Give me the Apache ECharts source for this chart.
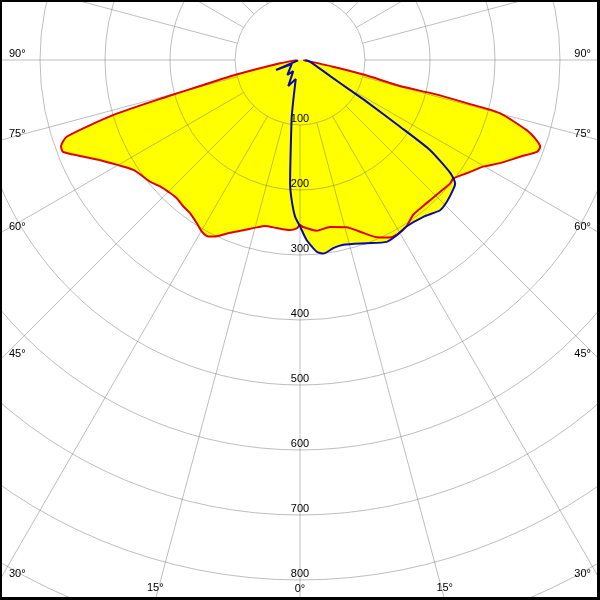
<!DOCTYPE html>
<html><head><meta charset="utf-8">
<script src="https://cdn.jsdelivr.net/npm/echarts@6/dist/echarts.min.js"></script>
<style>html,body{margin:0;padding:0;background:#fff}#c{width:600px;height:600px}</style>
</head><body><div id="c"></div>
<script>
// Red curve: angle in degrees (negative = left of nadir), intensity value
const redAngles = [-88, -80.6, -77, -75.4, -74.6, -73.6, -71.8, -70.1, -68.8, -66.4,
  -63.4, -56.6, -50.9, -47.9, -44.3, -41.7, -38.5, -35.7, -32.3, -29.8,
  -27.4, -25.3, -22.1, -18.4, -14.5, -11.9, -7.9, -3.4, -1.1, 0,
  1.1, 5.6, 10.2, 15.6, 19.3, 23.4, 26.9, 29.6, 32.6, 36.2,
  41.5, 46.8, 50.6, 52.3, 55.8, 59.8, 62.7, 66.3, 68.8, 70.1,
  71.3, 72.8, 75.1, 75.5, 75.8, 75.4, 77, 78.6, 88];
const redValues = [5, 31, 103, 159, 213, 299, 378, 391, 391, 369,
  344, 307, 297, 290, 286, 285, 288, 290, 297, 304,
  306, 300, 287, 276, 266, 261, 261, 262, 259, 254,
  257, 264, 261, 267, 280, 297, 306, 307, 304, 295,
  294, 296, 299, 298, 310, 326, 346, 370, 391, 393,
  384, 365, 318, 265, 211, 159, 103, 52, 5];
// Blue curve
const blueAngles = [-80, -67.4, -64.3, -40.3, -31.3, -24.2, -12.6, -9.5, -8.3, -5.9,
  -4.6, -3.4, -1.8, 0, 2.1, 5.0, 6.9, 10.0, 13.2, 20.0,
  25.5, 28.9, 32.6, 38.2, 43.0, 46.0, 50.2, 51.5, 53.1, 55.3,
  56.3, 58, 59, 62, 80, 90];
const blueValues = [3, 40, 14, 30, 20, 44, 30, 62, 88, 139,
  190, 216, 241, 256, 277, 296, 300, 294, 292, 300,
  310, 308, 304, 307, 316, 314, 308, 305, 289, 243,
  185, 120, 90, 52, 16, 8];
// Tick labels
const ringTicks = [100, 200, 300, 400, 500, 600, 700, 800];
const angleTicks = [90, 75, 60, 45, 30, 15, 0];
const angleTickLabels = ['90°', '75°', '60°', '45°', '30°', '15°', '0°'];

const W = 600, H = 600, CX = 300, CY = 60, R = 650, RMAX = 1000;
const gridColor = 'rgba(110,110,110,0.45)';
const FONT = '11px "Liberation Sans", Arial, sans-serif';

function pairs(a, v) { return a.map((t, i) => [v[i], t]); }
const redData = pairs(redAngles, redValues);
const blueData = pairs(blueAngles, blueValues);

const graphics = [];
angleTicks.forEach((a, i) => {
  const txt = angleTickLabels[i];
  const rad = a * Math.PI / 180;
  if (a >= 30) {
    const y = CY + CX / Math.tan(rad) - 6;
    graphics.push({type: 'text', x: 9, y: y, z: 10, style: {text: txt, font: FONT, fill: '#000', align: 'left', verticalAlign: 'middle'}});
    graphics.push({type: 'text', x: W - 9, y: y, z: 10, style: {text: txt, font: FONT, fill: '#000', align: 'right', verticalAlign: 'middle'}});
  } else if (a > 0) {
    const dx = (H - CY) * Math.tan(rad);
    graphics.push({type: 'text', x: CX - dx, y: 588, z: 10, style: {text: txt, font: FONT, fill: '#000', align: 'center', verticalAlign: 'middle'}});
    graphics.push({type: 'text', x: CX + dx, y: 588, z: 10, style: {text: txt, font: FONT, fill: '#000', align: 'center', verticalAlign: 'middle'}});
  } else {
    graphics.push({type: 'text', x: CX, y: 589, z: 10, style: {text: txt, font: FONT, fill: '#000', align: 'center', verticalAlign: 'middle'}});
  }
});
// frame
[[0, 0, W, 2], [0, 0, 2, H], [W - 3, 0, 3, H], [0, H - 3, W, 3]].forEach(s => {
  graphics.push({type: 'rect', z: 20, shape: {x: s[0], y: s[1], width: s[2], height: s[3]}, style: {fill: '#000'}});
});

const chart = echarts.init(document.getElementById('c'), null, {renderer: 'canvas', width: W, height: H});
chart.setOption({
  animation: false,
  backgroundColor: '#fff',
  polar: [
    {center: [CX, CY], radius: R},
    {center: [CX, CY], radius: [R * 100 / RMAX, R]}
  ],
  angleAxis: [
    {polarIndex: 0, type: 'value', min: -180, max: 180, startAngle: 90, clockwise: false, show: false},
    {polarIndex: 1, type: 'value', min: 0, max: 360, interval: 15, startAngle: 270, z: 3,
      axisLine: {show: false}, axisTick: {show: false}, axisLabel: {show: false},
      splitLine: {show: true, lineStyle: {color: gridColor, width: 1}}}
  ],
  radiusAxis: [
    {polarIndex: 0, type: 'value', min: 0, max: RMAX, show: false},
    {polarIndex: 1, type: 'value', min: 100, max: RMAX, interval: 100, z: 3,
      axisLine: {show: false}, axisTick: {show: false},
      splitLine: {show: true, lineStyle: {color: gridColor, width: 1}},
      axisLabel: {margin: 0, align: 'center', verticalAlign: 'bottom', padding: [0, 0, 1, 0],
        color: '#000', fontSize: 11, fontFamily: '"Liberation Sans", Arial, sans-serif',
        formatter: v => ringTicks.indexOf(v) >= 0 ? String(v) : ''}}
  ],
  series: [
    {type: 'line', coordinateSystem: 'polar', polarIndex: 0, data: redData, symbol: 'none', silent: true, z: 1, smooth: 0.2,
      lineStyle: {width: 0, opacity: 0}, areaStyle: {color: '#ffff00', opacity: 1}},
    {type: 'line', coordinateSystem: 'polar', polarIndex: 0, data: blueData, symbol: 'none', silent: true, z: 1, smooth: 0.2,
      lineStyle: {width: 0, opacity: 0}, areaStyle: {color: '#ffff00', opacity: 1}},
    {type: 'line', coordinateSystem: 'polar', polarIndex: 0, data: redData, symbol: 'none', silent: true, z: 5, smooth: 0.2,
      lineStyle: {width: 2, color: '#e00000'}},
    {type: 'line', coordinateSystem: 'polar', polarIndex: 0, data: blueData, symbol: 'none', silent: true, z: 5, smooth: 0.2,
      lineStyle: {width: 2, color: '#0a0aa8'}}
  ],
  graphic: graphics
});
</script></body></html>
